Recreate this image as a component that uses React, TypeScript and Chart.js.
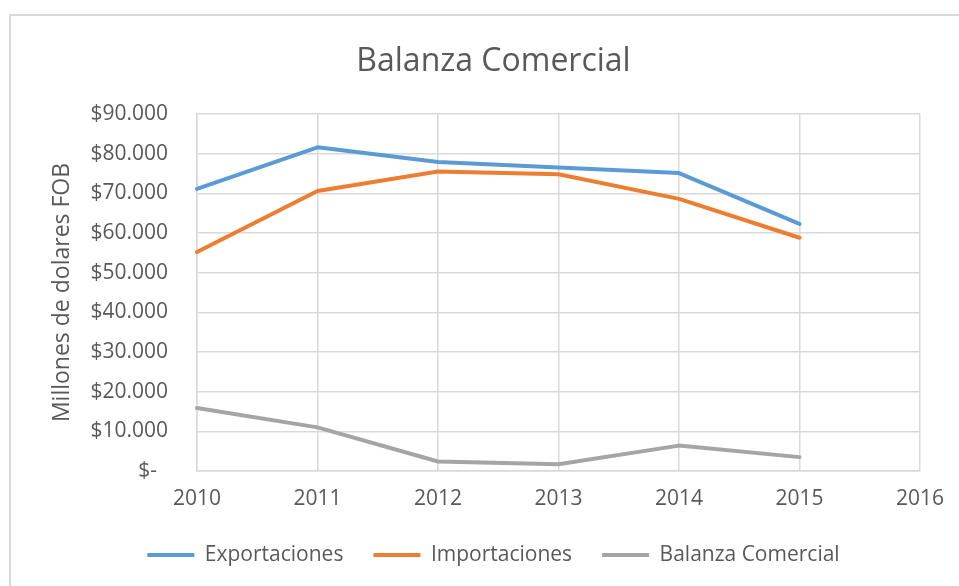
import React, { useEffect, useRef } from "react";
import { Chart, registerables } from "chart.js";

Chart.register(...registerables);

const years = ["2010", "2011", "2012", "2013", "2014", "2015", "2016"];
const exportaciones = [71100, 81600, 77900, 76500, 75100, 62300];
const importaciones = [55200, 70600, 75500, 74800, 68600, 58800];
const balanza = [15900, 11000, 2400, 1700, 6400, 3500];
const yMin = 0;
const yMax = 90000;
const yStep = 10000;

const FONT = "'Open Sans', 'Noto Sans', sans-serif";
const TEXT = "#595959";
const GRID = "#d9d9d9";

function fmt(v: number): string {
  if (v === 0) return "$-  ";
  return "$" + String(v).replace(/\B(?=(\d{3})+(?!\d))/g, ".");
}

export default function App() {
  const ref = useRef<HTMLCanvasElement>(null);
  useEffect(() => {
    const chart = new Chart(ref.current!, {
      type: "line",
      data: {
        labels: years,
        datasets: [
          { label: "Exportaciones", data: exportaciones, borderColor: "#5b9bd5", backgroundColor: "#5b9bd5" },
          { label: "Importaciones", data: importaciones, borderColor: "#ed7d31", backgroundColor: "#ed7d31" },
          { label: "Balanza Comercial", data: balanza, borderColor: "#a5a5a5", backgroundColor: "#a5a5a5" },
        ].map((d) => ({
          ...d,
          borderWidth: 4,
          pointRadius: 0,
          pointHoverRadius: 0,
          tension: 0,
          fill: false,
          borderCapStyle: "round" as const,
          borderJoinStyle: "round" as const,
        })),
      },
      options: {
        responsive: false,
        animation: false,
        layout: { padding: { left: 28, right: 0, top: 0, bottom: 10.5 } },
        plugins: {
          tooltip: { enabled: false },
          title: {
            display: true,
            text: "Balanza Comercial",
            color: TEXT,
            font: { family: FONT, size: 32, weight: "normal" },
            padding: { top: 43, bottom: 32.6 },
          },
          legend: {
            position: "bottom",
            labels: {
              color: TEXT,
              font: { family: FONT, size: 21 },
              boxWidth: 47,
              boxHeight: 4,
              padding: 30,
              generateLabels: (c: any) =>
                c.data.datasets.map((ds: any, i: number) => ({
                  text: ds.label,
                  fillStyle: ds.borderColor,
                  strokeStyle: ds.borderColor,
                  lineWidth: 0,
                  hidden: false,
                  datasetIndex: i,
                  fontColor: TEXT,
                })),
            },
          },
        },
        scales: {
          x: {
            type: "category",
            offset: false,
            grid: { color: GRID, lineWidth: 1.5, drawTicks: false },
            border: { color: GRID, width: 1.5 },
            ticks: { color: TEXT, font: { family: FONT, size: 21 }, padding: 15, maxRotation: 0, autoSkip: false },
            afterFit: (s: any) => {
              s.height = 43.5;
            },
          },
          y: {
            type: "linear",
            min: yMin,
            max: yMax,
            grid: { color: GRID, lineWidth: 1.5, drawTicks: false },
            border: { color: GRID, width: 1.5 },
            ticks: {
              stepSize: yStep,
              color: TEXT,
              font: { family: FONT, size: 21 },
              padding: 29,
              callback: (v: any) => fmt(Number(v)),
            },
            title: {
              display: true,
              text: "Millones de dolares FOB",
              color: TEXT,
              font: { family: FONT, size: 23 },
              padding: { top: 20.5, bottom: 0 },
            },
            afterFit: (s: any) => {
              s.width = 169;
            },
          },
          y2: {
            type: "linear",
            position: "right",
            display: true,
            grid: { display: false, drawTicks: false },
            border: { display: false },
            ticks: { display: false },
            afterFit: (s: any) => {
              s.width = 39;
            },
          },
        },
      },
    } as any);
    return () => chart.destroy();
  }, []);
  return (
    <div style={{ position: "fixed", left: 0, top: 0, width: 959, height: 586, overflow: "hidden", background: "#fff" }}>
      <div
        style={{
          position: "absolute",
          left: 9,
          top: 14,
          width: 970,
          height: 600,
          borderTop: "2px solid #d9d9d9",
          borderLeft: "2px solid #d9d9d9",
        }}
      />
      <canvas ref={ref} width={959} height={586} style={{ position: "absolute", left: 0, top: 0, width: 959, height: 586 }} />
    </div>
  );
}
